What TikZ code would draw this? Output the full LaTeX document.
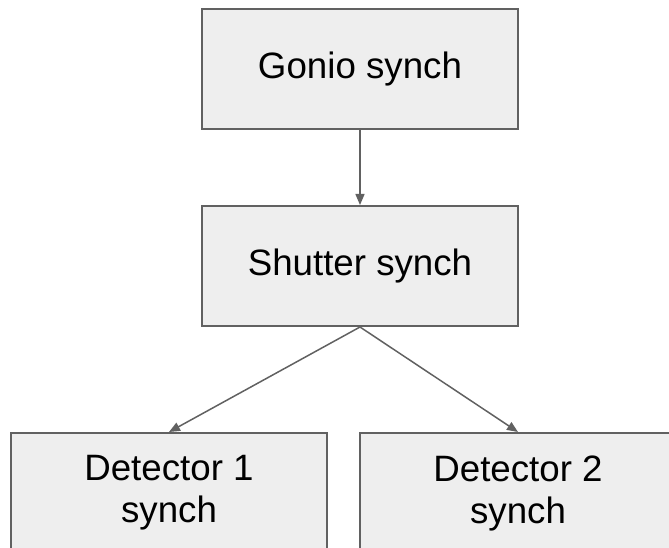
\documentclass[tikz,border=0pt]{standalone}
\usepackage{fontspec}
\setmainfont{Liberation Sans}
\usetikzlibrary{positioning,arrows.meta}
\definecolor{boxgray}{HTML}{EEEEEE}
\definecolor{linegray}{HTML}{616161}
\tikzset{
synchbox/.style={draw=linegray, line width=2pt, fill=boxgray, minimum width=316pt, minimum height=120pt, align=center, font=\fontsize{36.7}{42}\selectfont, inner sep=0pt},
synchline/.style={draw=linegray, line width=1.5pt, -{Triangle[length=11pt,width=9pt]}}
}
\begin{document}
\begin{tikzpicture}
\clip(-360pt,69pt) rectangle (309pt,-479pt);
\node[synchbox](gonio) at (0,0) {Gonio synch};
\node[synchbox, below=75pt of gonio](shutter) {Shutter synch};
\node[synchbox, below=105pt of shutter, xshift=-191pt](det1) {Detector 1\\synch};
\node[synchbox, below=105pt of shutter, xshift=158pt](det2) {Detector 2\\synch};
\draw[synchline](gonio)--(shutter);
\draw[synchline](shutter.south)--(det1.north);
\draw[synchline](shutter.south)--(det2.north); %cut at bottom
\end{tikzpicture}
\end{document}
